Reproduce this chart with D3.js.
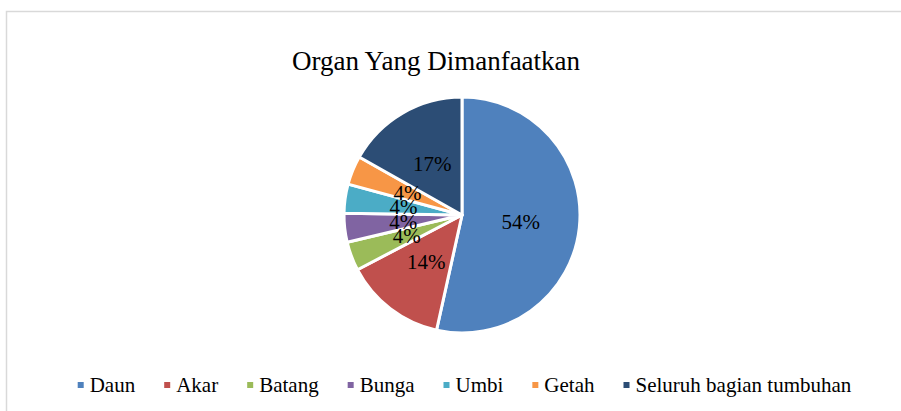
<!DOCTYPE html>
<html>
<head>
<meta charset="utf-8">
<script src="https://cdn.jsdelivr.net/npm/d3@7"></script>
<style>
  body { margin: 0; background: #fff; }
  text { font-family: "Liberation Serif", "Times New Roman", serif; fill: #000; }
</style>
</head>
<body>
<div id="chart"></div>
<script>
// data
var categories = ["Daun", "Akar", "Batang", "Bunga", "Umbi", "Getah", "Seluruh bagian tumbuhan"];
var percents = [54, 14, 4, 4, 4, 4, 17];
var colors = ["#4F81BD", "#C0504D", "#9BBB59", "#8064A2", "#4BACC6", "#F79646", "#2C4D75"];
var title = "Organ Yang Dimanfaatkan";

var svgWidth = 901;
var svgHeight = 411;

var svg = d3.select("#chart")
  .append("svg")
  .attr("width", svgWidth)
  .attr("height", svgHeight);

// chart area border
svg.append("rect")
  .attr("x", 6.5)
  .attr("y", 11.5)
  .attr("width", 920)
  .attr("height", 420)
  .attr("fill", "none")
  .attr("stroke", "#d9d9d9")
  .attr("stroke-width", 1.5);

svg.append("text")
  .attr("x", 436)
  .attr("y", 70)
  .attr("text-anchor", "middle")
  .style("font-size", "27px")
  .text(title);

var cx = 462, cy = 215, radius = 118;

var data = categories.map(function(c, i) {
  return { name: c, value: percents[i], color: colors[i] };
});

var pie = d3.pie()
  .sort(null)
  .value(d => d.value);

var arc = d3.arc()
  .innerRadius(0)
  .outerRadius(radius);

var pieGroup = svg.append("g")
  .attr("transform", `translate(${cx}, ${cy})`);

var arcs = pie(data);

pieGroup.selectAll("path")
  .data(arcs)
  .enter()
  .append("path")
  .attr("d", arc)
  .attr("fill", d => d.data.color)
  .attr("stroke", "#fff")
  .attr("stroke-width", 3)
  .attr("stroke-linejoin", "round");

// labels sit at the slice centroid, like the original (small ones stack up)
pieGroup.selectAll("text.lbl")
  .data(arcs)
  .enter()
  .append("text")
  .attr("class", "lbl")
  .attr("transform", function(d) {
    var c = arc.centroid(d);
    return `translate(${c[0]}, ${c[1]})`;
  })
  .attr("text-anchor", "middle")
  .attr("dy", "0.35em")
  .style("font-size", "21px")
  .text(d => d.data.value + "%");

// legend
var legend = svg.append("g");
var legendY = 392;
var gap = 29;
var xPos = 0;
categories.forEach(function(c, i) {
  var item = legend.append("g").attr("transform", `translate(${xPos}, 0)`);
  item.append("rect")
    .attr("x", 0)
    .attr("y", legendY - 10)
    .attr("width", 6)
    .attr("height", 6)
    .attr("fill", colors[i]);
  var t = item.append("text")
    .attr("x", 12)
    .attr("y", legendY)
    .style("font-size", "21px")
    .text(c);
  xPos += 12 + t.node().getComputedTextLength() + gap;
});
var legendWidth = xPos - gap;
legend.attr("transform", `translate(${(81 + 848) / 2 - legendWidth / 2}, 0)`);
</script>
</body>
</html>
